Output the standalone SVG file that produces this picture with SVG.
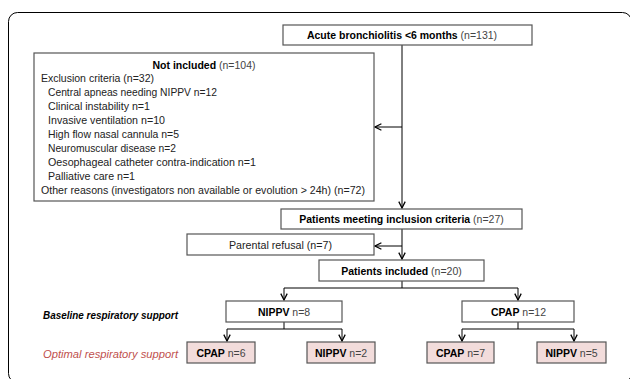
<svg xmlns="http://www.w3.org/2000/svg" width="630" height="379" viewBox="0 0 630 379">
<defs>
<marker id="arr" viewBox="0 0 10 10" refX="9" refY="5" markerWidth="8" markerHeight="8" orient="auto" markerUnits="userSpaceOnUse">
<path d="M1,1 L9,5 L1,9" fill="none" stroke="#000" stroke-width="1.6"/>
</marker>
<style>
.box{fill:#fff;stroke:#555;stroke-width:1.2}
.pink{fill:#f2dcdb;stroke:#555;stroke-width:1.2}
text{font-family:"Liberation Sans",Arial,sans-serif;font-size:11.5px;fill:#222}
.t{font-size:10.5px;text-anchor:middle}
.b{font-weight:bold;fill:#000}
.r{fill:#444}
.lab{font-weight:bold;font-style:italic;text-anchor:end;fill:#000}
.red{font-style:italic;text-anchor:end;fill:#c0504d}
.ln{fill:none;stroke:#000;stroke-width:1}
</style>
</defs>
<rect width="630" height="379" fill="#fff"/>
<rect x="8.5" y="12.5" width="623" height="370" rx="9" fill="none" stroke="#000" stroke-width="1"/>

<g id="connectors">
<path class="ln" d="M402,45 V208" marker-end="url(#arr)"/>
<path class="ln" d="M402,127 H375" marker-end="url(#arr)"/>
<path class="ln" d="M402,229 V259" marker-end="url(#arr)"/>
<path class="ln" d="M402,246 H375" marker-end="url(#arr)"/>
<path class="ln" d="M402,281 V288"/>
<path class="ln" d="M284,288 H518"/>
<path class="ln" d="M284,288 V300" marker-end="url(#arr)"/>
<path class="ln" d="M518,288 V300" marker-end="url(#arr)"/>
<path class="ln" d="M284,322 V329"/>
<path class="ln" d="M227,329 H342"/>
<path class="ln" d="M227,329 V341" marker-end="url(#arr)"/>
<path class="ln" d="M342,329 V341" marker-end="url(#arr)"/>
<path class="ln" d="M518,322 V329"/>
<path class="ln" d="M462,329 H574"/>
<path class="ln" d="M462,329 V341" marker-end="url(#arr)"/>
<path class="ln" d="M574,329 V341" marker-end="url(#arr)"/>
</g>

<g id="acute">
<rect class="box" x="283" y="25" width="249" height="20"/>
<text class="t" x="402" y="39"><tspan class="b">Acute bronchiolitis &lt;6 months</tspan><tspan class="r"> (n=131)</tspan></text>
</g>

<g id="not-included">
<rect class="box" x="34" y="53" width="340" height="148"/>
<text class="t" x="204" y="69"><tspan class="b">Not included</tspan><tspan class="r"> (n=104)</tspan></text>
<text x="41" y="82" textLength="113" lengthAdjust="spacingAndGlyphs">Exclusion criteria (n=32)</text>
<text x="48" y="96" textLength="169" lengthAdjust="spacingAndGlyphs">Central apneas needing NIPPV n=12</text>
<text x="48" y="110" textLength="102" lengthAdjust="spacingAndGlyphs">Clinical instability n=1</text>
<text x="48" y="124" textLength="117" lengthAdjust="spacingAndGlyphs">Invasive ventilation n=10</text>
<text x="48" y="138" textLength="131" lengthAdjust="spacingAndGlyphs">High flow nasal cannula n=5</text>
<text x="48" y="152" textLength="128" lengthAdjust="spacingAndGlyphs">Neuromuscular disease n=2</text>
<text x="48" y="166" textLength="208" lengthAdjust="spacingAndGlyphs">Oesophageal catheter contra-indication n=1</text>
<text x="48" y="180" textLength="87" lengthAdjust="spacingAndGlyphs">Palliative care n=1</text>
<text x="41" y="194" textLength="324" lengthAdjust="spacingAndGlyphs">Other reasons (investigators non available or evolution &gt; 24h) (n=72)</text>
</g>

<g id="meeting">
<rect class="box" x="281" y="209" width="241" height="20"/>
<text class="t" x="401.5" y="223"><tspan class="b">Patients meeting inclusion criteria</tspan><tspan class="r"> (n=27)</tspan></text>
</g>

<g id="refusal">
<rect class="box" x="187" y="234" width="187" height="21"/>
<text x="280.5" y="248.5" text-anchor="middle" textLength="103" lengthAdjust="spacingAndGlyphs">Parental refusal (n=7)</text>
</g>

<g id="included">
<rect class="box" x="319" y="260" width="165" height="21"/>
<text class="t" x="401.5" y="274.5"><tspan class="b">Patients included</tspan><tspan class="r"> (n=20)</tspan></text>
</g>

<g id="baseline-label">
<text class="lab" x="178" y="319" textLength="135" lengthAdjust="spacingAndGlyphs">Baseline respiratory support</text>
</g>

<g id="nippv8">
<rect class="box" x="226" y="301" width="116" height="21"/>
<text class="t" x="284" y="315.5"><tspan class="b">NIPPV</tspan><tspan class="r"> n=8</tspan></text>
</g>

<g id="cpap12">
<rect class="box" x="462" y="301" width="112" height="21"/>
<text class="t" x="518.5" y="315.5"><tspan class="b">CPAP</tspan><tspan class="r"> n=12</tspan></text>
</g>

<g id="optimal-label">
<text class="red" x="178" y="358" textLength="135" lengthAdjust="spacingAndGlyphs">Optimal respiratory support</text>
</g>

<g id="cpap6">
<rect class="pink" x="187" y="342" width="68" height="21"/>
<text class="t" x="221" y="356.5"><tspan class="b">CPAP</tspan><tspan class="r"> n=6</tspan></text>
</g>

<g id="nippv2">
<rect class="pink" x="307" y="342" width="68" height="21"/>
<text class="t" x="341" y="356.5"><tspan class="b">NIPPV</tspan><tspan class="r"> n=2</tspan></text>
</g>

<g id="cpap7">
<rect class="pink" x="427" y="342" width="67" height="21"/>
<text class="t" x="460.5" y="356.5"><tspan class="b">CPAP</tspan><tspan class="r"> n=7</tspan></text>
</g>

<g id="nippv5">
<rect class="pink" x="537" y="342" width="69" height="21"/>
<text class="t" x="571.5" y="356.5"><tspan class="b">NIPPV</tspan><tspan class="r"> n=5</tspan></text>
</g>
</svg>
